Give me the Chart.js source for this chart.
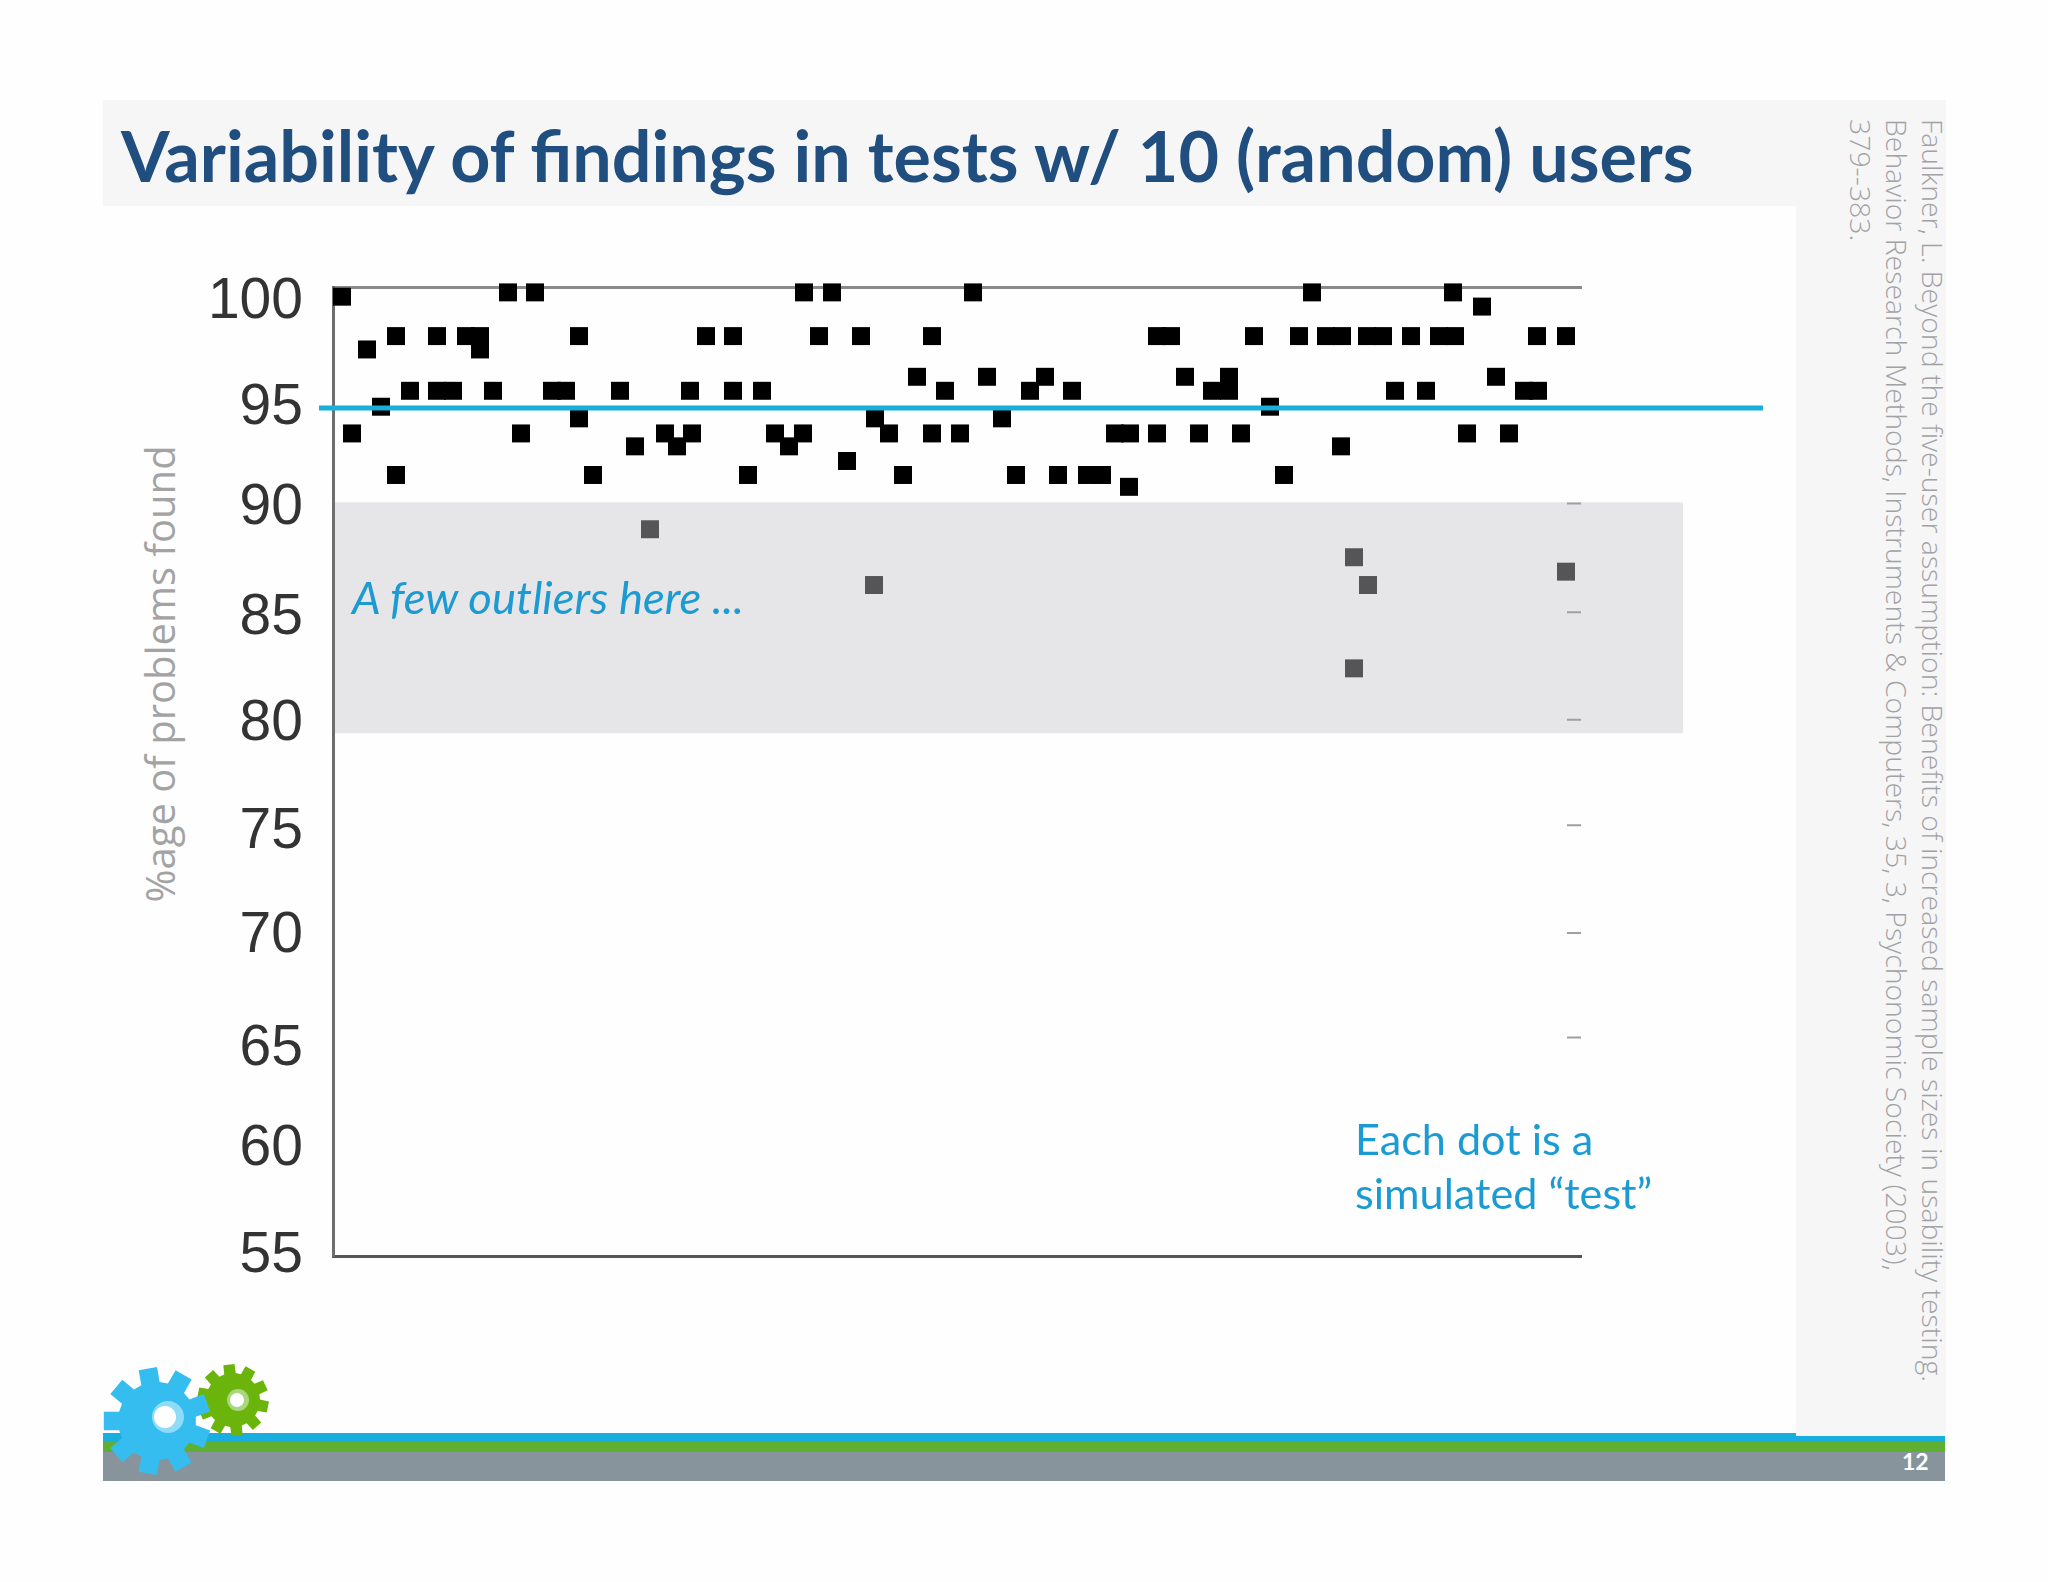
<!DOCTYPE html>
<html><head><meta charset="utf-8">
<script src="https://cdn.jsdelivr.net/npm/chart.js@4"></script>
<style>
html,body{margin:0;padding:0;background:#fefefe;width:2048px;height:1582px;overflow:hidden}
.abs{position:absolute}
#title{left:121px;top:113px;font:700 70px Lato,sans-serif;color:#1f4e7f;white-space:nowrap;transform-origin:0 0}
#ylab{left:159px;top:674px;font:400 40px "Open Sans",sans-serif;color:#a3a3a3;white-space:nowrap;transform:translate(-50%,-50%) rotate(-90deg)}
.cite{top:119px;writing-mode:vertical-rl;font:300 28.4px "Open Sans",sans-serif;color:#a2a2a6;white-space:nowrap}
.note{font:400 43.2px Lato,sans-serif;color:#1b9bd1;white-space:nowrap}
canvas{position:absolute;left:0;top:0}
</style></head>
<body>
<div class="abs" style="left:103px;top:100px;width:1843px;height:106px;background:#f6f6f7"></div>
<div class="abs" style="left:1796px;top:206px;width:150px;height:1230px;background:#f6f6f7"></div>
<div class="abs" style="left:103px;top:1433px;width:1693px;height:9px;background:#1aaee0"></div>
<div class="abs" style="left:1796px;top:1436px;width:149px;height:6px;background:#1aaee0"></div>
<div class="abs" style="left:103px;top:1442px;width:1842px;height:10px;background:#5fb030"></div>
<div class="abs" style="left:103px;top:1452px;width:1842px;height:29px;background:#87949b"></div>
<div class="abs" style="left:1902px;top:1446px;width:26px;font:700 23px Lato,sans-serif;color:#fff;text-align:center;line-height:30px">12</div>
<div class="abs" id="title">Variability of findings in tests w/ 10 (random) users</div>
<div class="abs" id="ylab">%age of problems found</div>
<div class="abs cite" style="left:1914px">Faulkner, L. Beyond the five-user assumption: Benefits of increased sample sizes in usability testing.</div>
<div class="abs cite" style="left:1878px">Behavior Research Methods, Instruments &amp; Computers, 35, 3, Psychonomic Society (2003),</div>
<div class="abs cite" style="left:1842px">379--383.</div>
<canvas id="c" width="2048" height="1582"></canvas>
<div class="abs note" style="left:352px;top:569px;font-size:45.5px;font-style:italic">A few outliers here ...</div>
<div class="abs note" style="left:1355px;top:1112px;line-height:53.5px">Each dot is a<br>simulated “test”</div>
<svg class="abs" id="gears" width="300" height="160" style="left:80px;top:1340px"></svg>
<script>
// y-axis tick labels
const tickLabels = [55,60,65,70,75,80,85,90,95,100];
// percentage of problems found (rows of tests sharing a value), x = test position
const found_9975 = [17.5,20.2,47.1,49.9,64.0,97.9,112.0];
const found_9955 = [0.9];
const found_9909 = [114.9];
const found_9772 = [6.3,10.4,13.3,14.7,24.6,37.3,40.0,48.6,52.8,59.9,82.4,83.8,92.1,96.6,99.3,100.9,103.4,105.0,107.8,110.6,112.2,120.4,123.3];
const found_9710 = [3.4,14.7];
const found_9583 = [58.4,65.4,71.2,85.2,89.6,116.3];
const found_9518 = [7.7,10.4,12.0,16.0,21.9,23.3,28.7,35.7,40.0,42.9,61.2,69.7,73.9,87.9,89.6,106.2,109.3,119.1,120.5];
const found_9444 = [4.8,93.7];
const found_9390 = [24.6,54.2,66.9];
const found_9320 = [1.9,18.8,33.2,35.9,44.2,47.0,55.6,59.9,62.7,78.2,79.7,82.4,86.6,90.8,113.4,117.6];
const found_9260 = [30.2,34.4,45.6,100.8];
const found_9192 = [51.4];
const found_9127 = [6.3,26.0,41.5,57.0,68.3,72.5,75.4,76.9,95.1];
const found_9072 = [79.6];
const outlierTests = [31.7,54.1,102.1,103.5,102.1,123.3];
const outlierFound = [88.75,86.16,87.45,86.16,82.29,86.78];
const threshold = 94.38;
const rightTickValues = [89.95,84.9,79.9,75,70,65.15];
const bandRange = [79.28,90];

const rows = [[99.75,found_9975],[99.55,found_9955],[99.09,found_9909],[97.72,found_9772],[97.10,found_9710],
 [95.83,found_9583],[95.18,found_9518],[94.44,found_9444],[93.90,found_9390],[93.20,found_9320],
 [92.60,found_9260],[91.92,found_9192],[91.27,found_9127],[90.72,found_9072]];
const tests = rows.flatMap(([v,xs]) => xs.map(x => ({x, y:v})));
const outliers = outlierTests.map((x,i) => ({x, y:outlierFound[i]}));
const X_MAX = 124.8, X_BAND = 135, X_LINE0 = -1.4, X_LINE1 = 143;
const labelNudge = {100:-0.69,95:-0.61,90:-0.26,85:-0.37,80:-0.29,75:-0.31,70:-0.14,65:-0.39,60:-0.03,55:0};
const rightTicks = rightTickValues.flatMap(v => [{x:123.4,y:v},{x:X_MAX,y:v},{x:NaN,y:NaN}]);

const bandPlugin = {
  id:'band',
  beforeDraw(ch){
    const {x,y} = ch.scales, c = ch.ctx;
    c.save();
    c.fillStyle = '#e6e5e8';
    const t = y.getPixelForValue(bandRange[1]), b = y.getPixelForValue(bandRange[0]);
    c.fillRect(x.getPixelForValue(0), t, x.getPixelForValue(X_BAND)-x.getPixelForValue(0), b-t);
    c.restore();
  }
};

new Chart(document.getElementById('c'), {
  type:'scatter',
  plugins:[bandPlugin],
  data:{datasets:[
    {label:'ticks',type:'line',data:rightTicks,showLine:true,borderColor:'#a0a0a0',borderWidth:2,pointRadius:0,spanGaps:false,order:4},
    {label:'Tests',data:tests,backgroundColor:'#000',borderWidth:0,pointStyle:'rect',pointRadius:12.7,clip:false,order:3},
    {label:'Outliers',data:outliers,backgroundColor:'#555558',borderWidth:0,pointStyle:'rect',pointRadius:12.7,clip:false,order:2},
    {label:'Threshold',type:'line',data:[{x:X_LINE0,y:threshold},{x:X_LINE1,y:threshold}],borderColor:'#1aaedc',borderWidth:5,pointRadius:0,clip:false,order:1}
  ]},
  options:{
    responsive:false,animation:false,devicePixelRatio:1,
    layout:{padding:{left:0,right:467,top:287,bottom:326}},
    plugins:{legend:{display:false},title:{display:false},tooltip:{enabled:false}},
    scales:{
      x:{type:'linear',min:0,max:X_MAX,position:'bottom',
         grid:{display:false},ticks:{display:false},
         border:{display:true,color:'#555',width:3},
         afterFit:s=>{s.height=0}},
      xTop:{type:'linear',min:0,max:X_MAX,position:'top',
         grid:{display:false},ticks:{display:false},
         border:{display:true,color:'#8a8a8a',width:3},
         afterFit:s=>{s.height=0}},
      y:{type:'linear',min:55,max:100,position:'left',
         grid:{display:false,drawTicks:false},
         border:{display:true,color:'#6e6e6e',width:3},
         afterBuildTicks:s=>{s.ticks = tickLabels.map(v=>({value:v+labelNudge[v]}))},
         ticks:{autoSkip:false,padding:30,color:'#333',
           font:{family:'"Liberation Sans",sans-serif',size:57},
           callback:(v,i)=>String(tickLabels[i])},
         afterFit:s=>{s.width=333}}
    }
  }
});

// slide decoration: gears
function gear(cx,cy,ro,ri,n,rot,fill){
  let p=[];
  for(let i=0;i<n;i++){
    const a=rot+i*2*Math.PI/n, w=Math.PI/n*0.55;
    [[ri,-w*1.25],[ro,-w*0.9],[ro,w*0.9],[ri,w*1.25]].forEach(([r,d])=>p.push((cx+r*Math.cos(a+d)).toFixed(1)+','+(cy+r*Math.sin(a+d)).toFixed(1)));
  }
  return `<polygon points="${p.join(' ')}" fill="${fill}"/>`;
}
document.getElementById('gears').innerHTML =
  gear(153,60,36,27,10,0.2,'#6bb40c')+'<circle cx="158" cy="60" r="11" fill="#a9d67e"/><circle cx="157" cy="60" r="7" fill="#fff"/>'+
  gear(77,81,54,39,9,0.35,'#35bdf0')+'<circle cx="88" cy="77" r="16" fill="#8fdcf8"/><circle cx="85" cy="77" r="11" fill="#fff"/>';
</script>
</body></html>
